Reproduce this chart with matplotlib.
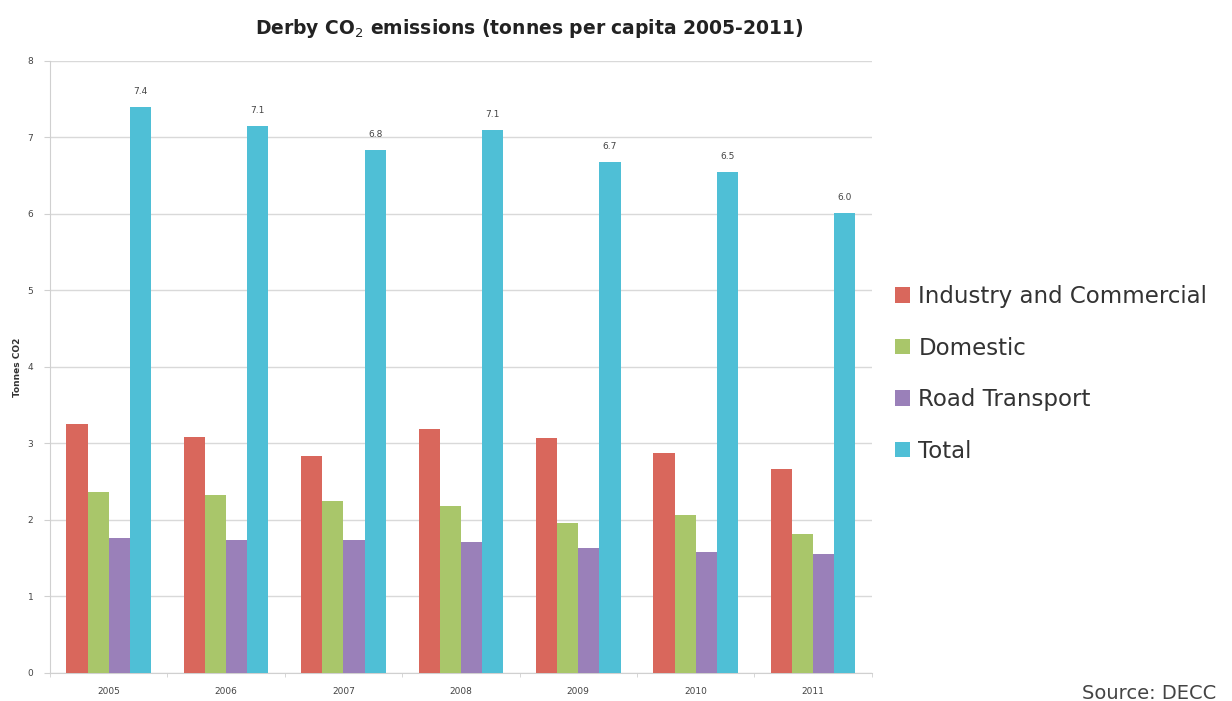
import numpy as np
import matplotlib.pyplot as plt

#Data
years = ['2005', '2006', '2007', '2008', '2009', '2010', '2011']
industry = [3.25, 3.08, 2.84, 3.19, 3.07, 2.87, 2.66]
domestic = [2.36, 2.33, 2.25, 2.18, 1.96, 2.07, 1.82]
road = [1.76, 1.74, 1.74, 1.71, 1.64, 1.58, 1.56]
total = [7.40, 7.15, 6.84, 7.10, 6.68, 6.55, 6.01]
total_labels = ['7.4', '7.1', '6.8', '7.1', '6.7', '6.5', '6.0']
series_names = ['Industry and Commercial', 'Domestic', 'Road Transport', 'Total']
colors = ['#d9675c', '#a9c66a', '#9a80b9', '#4fbfd6']

fig = plt.figure(figsize=(12.32, 7.01), dpi=100)
ax = fig.add_axes([0.0406, 0.04, 0.667, 0.873])

x = np.arange(len(years))
w = 0.18
bars = []
for i, vals in enumerate([industry, domestic, road, total]):
    b = ax.bar(x + (i - 1.5) * w, vals, width=w, color=colors[i], zorder=3)
    bars.append(b)

#Value labels on top of the total bars
for xi, v, lab in zip(x + 1.5 * w, total, total_labels):
    ax.annotate(lab, (xi, v), xytext=(0, 8), textcoords='offset points',
                ha='center', va='bottom', fontsize=6.5, color='#444444')

ax.set_xlim(-0.5, len(years) - 0.5)
ax.set_ylim(0, 8)
ax.set_yticks(range(0, 9))
ax.set_xticks(x)
ax.set_xticklabels(years)
ax.set_xticks(np.arange(-0.5, len(years), 1), minor=True)
ax.tick_params(axis='x', which='major', length=0, labelsize=6.5, labelcolor='#444444', pad=10)
ax.tick_params(axis='x', which='minor', length=3, color='#d0d0d0')
ax.tick_params(axis='y', length=4, color='#d0d0d0', labelsize=6.5, labelcolor='#444444', pad=8)
ax.yaxis.grid(True, color='#d9d9d9', linewidth=1, zorder=0)
ax.set_axisbelow(True)
for s in ['top', 'right']:
    ax.spines[s].set_visible(False)
ax.spines['left'].set_color('#d0d0d0')
ax.spines['bottom'].set_color('#d0d0d0')
ax.set_ylabel('Tonnes CO2', fontsize=6.5, fontweight='bold', color='#333333', labelpad=4)

fig.text(0.43, 0.96, 'Derby CO$_2$ emissions (tonnes per capita 2005-2011)',
         ha='center', va='center', fontsize=13.5, fontweight='bold', color='#222222')

#Legend on the right
fig.legend([b[0] for b in bars], series_names, loc='upper left',
           bbox_to_anchor=(0.71, 0.623), frameon=False, fontsize=16.5,
           handlelength=0.65, handleheight=0.65, handletextpad=0.35,
           labelspacing=1.25, labelcolor='#333333')

fig.text(1082 / 1232, 1 - 684 / 701, 'Source: DECC', ha='left', va='top',
         fontsize=14, color='#444444')

plt.savefig('out.png', dpi=100)
